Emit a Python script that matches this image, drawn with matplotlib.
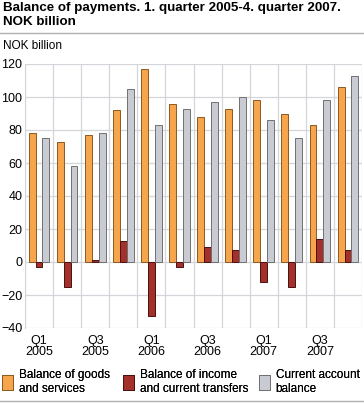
import numpy as np
import matplotlib.pyplot as plt
from matplotlib.patches import Patch
from matplotlib.lines import Line2D

plt.rcParams['font.family'] = ['Liberation Sans', 'DejaVu Sans']

quarters = ['Q1\n2005', '', 'Q3\n2005', '', 'Q1\n2006', '', 'Q3\n2006', '',
            'Q1\n2007', '', 'Q3\n2007', '']
goods = [78, 73, 77, 92, 117, 96, 88, 93, 98, 90, 83, 106]
income = [-3, -15, 1, 13, -33, -3, 9, 7, -12, -15, 14, 7]
current = [75, 58, 78, 105, 83, 93, 97, 100, 86, 75, 98, 113]

labels = ['Balance of goods\nand services',
          'Balance of income\nand current transfers',
          'Current account\nbalance']
colors = ['#F6A54C', '#A3302A', '#C8CBD1']
edges = ['#8A5A20', '#4A1010', '#707070']

W, H = 364, 405
fig = plt.figure(figsize=(W / 100, H / 100), dpi=100)
ax = fig.add_axes([25 / W, 1 - 328 / H, 337 / W, 264 / H])

x = np.arange(len(goods))
w = 0.245
for i, vals in enumerate([goods, income, current]):
    ax.bar(x + (i - 1) * w, vals, w, color=colors[i], edgecolor=edges[i],
           linewidth=0.7, zorder=3)

ax.set_xlim(-0.5, len(goods) - 0.5)
ax.set_ylim(-40, 120)
ax.set_yticks(range(-40, 121, 20))
ax.set_xticks(x)
ax.set_xticklabels(quarters, fontsize=9, linespacing=0.95)
ax.set_xticks(np.arange(-0.5, len(goods)), minor=True)
ax.tick_params(axis='both', which='both', length=0, labelsize=9, colors='black')
ax.tick_params(axis='y', pad=2)
ax.tick_params(axis='x', pad=5)
ax.grid(True, which='minor', axis='x', color='#D3D6DB', linewidth=0.9, zorder=0)
ax.grid(True, which='major', axis='y', color='#D3D6DB', linewidth=0.9, zorder=0)
for s in ['top', 'right', 'bottom']:
    ax.spines[s].set_visible(False)
ax.spines['left'].set_color('#D3D6DB')

fig.text(3 / W, 1 - 2 / H,
         'Balance of payments. 1. quarter 2005-4. quarter 2007.\nNOK billion',
         fontsize=9.6, fontweight='bold', va='top', ha='left', linespacing=1.2)
fig.add_artist(Line2D([0, 1], [1 - 33 / H] * 2, color='#B0B0B0', linewidth=1))
fig.text(3 / W, 1 - 40 / H, 'NOK billion', fontsize=8.5, va='top', ha='left')

# three legend entries placed individually
handle_x = [2, 123, 259]
for i in range(3):
    h = Patch(facecolor=colors[i], edgecolor=edges[i], linewidth=0.7)
    leg = fig.legend([h], [labels[i]], loc='upper left',
                     bbox_to_anchor=(handle_x[i] / W, 1 - 369 / H),
                     frameon=False, fontsize=8.5, handlelength=0.95,
                     handleheight=1.6, handletextpad=0.45, borderaxespad=0,
                     borderpad=0, labelspacing=0)
    fig.add_artist(leg)
fig.add_artist(Line2D([0, 1], [1 - 401 / H] * 2, color='#B0B0B0', linewidth=1))

fig.savefig('out.png', dpi=100)
